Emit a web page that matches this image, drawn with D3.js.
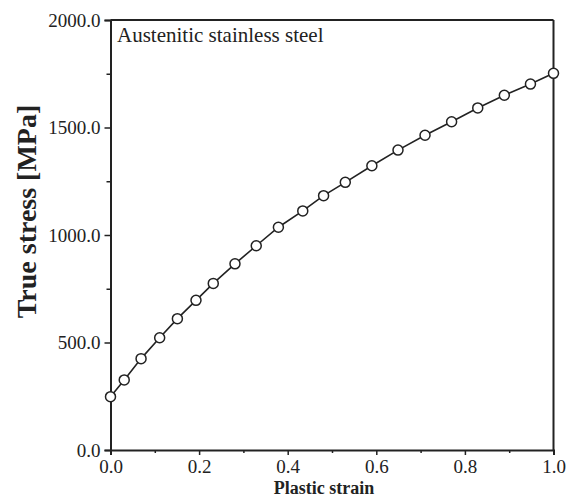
<!DOCTYPE html>
<html>
<head>
<meta charset="utf-8">
<script src="https://cdn.jsdelivr.net/npm/d3@7"></script>
<style>
  html, body { margin: 0; padding: 0; background: #fff; }
  svg { display: block; }
  text { font-family: "Liberation Serif", "Times New Roman", serif; fill: #222; }
</style>
</head>
<body>
<svg id="chart" width="567" height="498"></svg>
<script>
// Flow curve of austenitic stainless steel
const strain = [0.0, 0.031, 0.069, 0.111, 0.151, 0.193, 0.232, 0.281, 0.329, 0.379,
                0.434, 0.481, 0.530, 0.590, 0.649, 0.710, 0.770, 0.829, 0.889, 0.948, 1.0];
const stress = [248, 326, 425, 522, 611, 696, 775, 866, 950, 1036,
                1112, 1183, 1245, 1322, 1395, 1464, 1527, 1591, 1650, 1702, 1752];

const xMajor = [0.0, 0.2, 0.4, 0.6, 0.8, 1.0];
const xMinor = [0.1, 0.3, 0.5, 0.7, 0.9];
const yMajor = [0, 500, 1000, 1500, 2000];
const yMinor = [250, 750, 1250, 1750];

const titleText = "Austenitic stainless steel";
const xLabel = "Plastic strain";
const yLabel = "True stress [MPa]";

const ink = "#222";
const svg = d3.select("#chart");

const x = d3.scaleLinear().domain([0, 1]).range([110.5, 553.5]);
const y = d3.scaleLinear().domain([0, 2000]).range([450, 20]);

// frame: top and right edges
svg.append("line").attr("x1", x(0)).attr("x2", x(1)).attr("y1", y(2000)).attr("y2", y(2000))
  .attr("stroke", ink).attr("stroke-width", 2);
svg.append("line").attr("x1", x(1)).attr("x2", x(1)).attr("y1", y(0)).attr("y2", y(2000))
  .attr("stroke", ink).attr("stroke-width", 2);

// x axis
const xAxis = svg.append("g").attr("transform", `translate(0,${y(0)})`)
  .call(d3.axisBottom(x).tickValues(xMajor).tickFormat(d3.format(".1f")).tickSize(5).tickPadding(5));
svg.append("g").attr("transform", `translate(0,${y(0)})`)
  .call(d3.axisBottom(x).tickValues(xMinor).tickFormat("").tickSize(3))
  .select(".domain").remove();

// y axis
const yAxis = svg.append("g").attr("transform", `translate(${x(0)},0)`)
  .call(d3.axisLeft(y).tickValues(yMajor).tickFormat(d3.format(".1f")).tickSize(6).tickPadding(4));
svg.append("g").attr("transform", `translate(${x(0)},0)`)
  .call(d3.axisLeft(y).tickValues(yMinor).tickFormat("").tickSize(4))
  .select(".domain").remove();

svg.selectAll(".domain").attr("stroke", ink).attr("stroke-width", 2);
svg.selectAll(".tick line").attr("stroke", ink).attr("stroke-width", 1.5);
svg.selectAll(".tick text")
  .attr("font-family", "'Liberation Serif', 'Times New Roman', serif")
  .attr("font-size", 19).attr("fill", ink);
xAxis.selectAll(".tick text").attr("dy", "0.71em");

// curve
const pts = strain.map((s, i) => [s, stress[i]]);
svg.append("path")
  .datum(pts)
  .attr("fill", "none").attr("stroke", ink).attr("stroke-width", 1.6)
  .attr("d", d3.line().x(d => x(d[0])).y(d => y(d[1])));

svg.append("g").selectAll("circle")
  .data(pts).join("circle")
  .attr("cx", d => x(d[0])).attr("cy", d => y(d[1])).attr("r", 5)
  .attr("fill", "#fff").attr("stroke", ink).attr("stroke-width", 1.5);

// labels
svg.append("text").attr("x", 117).attr("y", 41.5)
  .attr("font-size", 21).text(titleText);

svg.append("text").attr("x", 324).attr("y", 494)
  .attr("text-anchor", "middle").attr("font-size", 18).attr("font-weight", "bold")
  .text(xLabel);

svg.append("text")
  .attr("transform", "translate(36,211.5) rotate(-90)")
  .attr("text-anchor", "middle").attr("font-size", 28).attr("font-weight", "bold")
  .text(yLabel);
</script>
</body>
</html>
